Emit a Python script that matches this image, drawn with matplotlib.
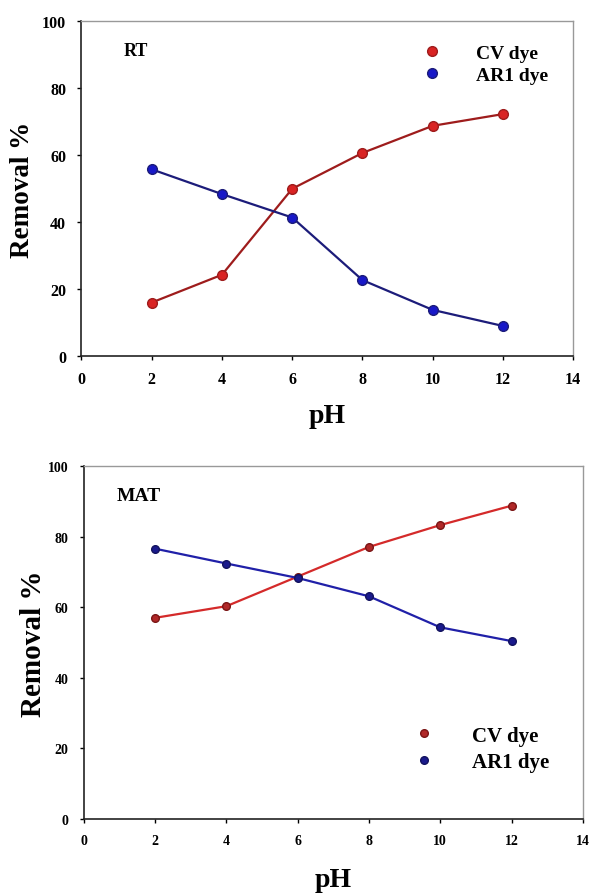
import numpy as np
import matplotlib
matplotlib.use("Agg")
import matplotlib.pyplot as plt
from matplotlib.lines import Line2D

plt.rcParams['font.family'] = ['Liberation Serif', 'DejaVu Serif']
plt.rcParams['font.weight'] = 'bold'

ph = np.array([2, 4, 6, 8, 10, 12])

# RT panel
cv_rt = np.array([16.0, 24.3, 50.0, 60.7, 68.8, 72.3])
ar1_rt = np.array([55.8, 48.4, 41.4, 22.7, 13.8, 9.0])

# MAT panel
cv_mat = np.array([57.0, 60.3, 68.7, 77.1, 83.3, 88.8])
ar1_mat = np.array([76.6, 72.4, 68.3, 63.1, 54.3, 50.4])

xticks = [0, 2, 4, 6, 8, 10, 12, 14]
yticks = [0, 20, 40, 60, 80, 100]

fig = plt.figure(figsize=(5.99, 8.95), dpi=100)
ax1 = fig.add_axes([0.136, 0.601, 0.821, 0.374])
ax2 = fig.add_axes([0.140, 0.084, 0.833, 0.394])


def style(ax, tick_fs):
    ax.set_xlim(0, 14)
    ax.set_ylim(0, 100)
    ax.set_xticks(xticks)
    ax.set_yticks(yticks)
    ax.tick_params(direction='out', length=3, width=1, labelsize=tick_fs, pad=8)
    for s in ['left', 'bottom']:
        ax.spines[s].set_color('#222222')
        ax.spines[s].set_linewidth(1.2)
    for s in ['top', 'right']:
        ax.spines[s].set_color('#999999')
        ax.spines[s].set_linewidth(1.0)
    for lab in ax.get_xticklabels() + ax.get_yticklabels():
        lab.set_fontweight('bold')


# top panel
ax1.plot(ph, cv_rt, color='#9e1c1c', lw=1.6, marker='o', ms=7,
         mfc='#d92323', mec='#9e1c1c', mew=1)
ax1.plot(ph, ar1_rt, color='#1c1c7a', lw=1.6, marker='o', ms=7,
         mfc='#1818c8', mec='#1c1c7a', mew=1)
style(ax1, 11.5)
ax1.set_xlabel('pH', fontsize=20, fontweight='bold', labelpad=11)
ax1.set_ylabel('Removal %', fontsize=19.5, fontweight='bold')
ax1.yaxis.set_label_coords(-0.094, 0.5)
ax1.text(0.085, 0.9, 'RT', transform=ax1.transAxes, fontsize=13, fontweight='bold')
h1 = [Line2D([], [], ls='none', marker='o', ms=7, mfc='#d92323', mec='#9e1c1c'),
      Line2D([], [], ls='none', marker='o', ms=7, mfc='#1818c8', mec='#1c1c7a')]
ax1.legend(h1, ['CV dye', 'AR1 dye'], loc='upper right', bbox_to_anchor=(0.985, 0.985),
           frameon=False, prop={'size': 14, 'weight': 'bold'},
           handlelength=1.0, handletextpad=1.8, labelspacing=0.25)

# bottom panel
ax2.plot(ph, cv_mat, color='#d42a2a', lw=1.6, marker='o', ms=5.5,
         mfc='#b02828', mec='#7a1515', mew=1)
ax2.plot(ph, ar1_mat, color='#2020a8', lw=1.6, marker='o', ms=5.5,
         mfc='#1a1a8c', mec='#12125e', mew=1)
style(ax2, 10)
ax2.set_xlabel('pH', fontsize=20, fontweight='bold', labelpad=14)
ax2.set_ylabel('Removal %', fontsize=21, fontweight='bold')
ax2.yaxis.set_label_coords(-0.074, 0.5)
ax2.text(0.065, 0.905, 'MAT', transform=ax2.transAxes, fontsize=14, fontweight='bold')
h2 = [Line2D([], [], ls='none', marker='o', ms=5.5, mfc='#b02828', mec='#7a1515'),
      Line2D([], [], ls='none', marker='o', ms=5.5, mfc='#1a1a8c', mec='#12125e')]
ax2.legend(h2, ['CV dye', 'AR1 dye'], loc='lower right', bbox_to_anchor=(0.97, 0.08),
           frameon=False, prop={'size': 15, 'weight': 'bold'},
           handlelength=1.0, handletextpad=1.8, labelspacing=0.3)

fig.savefig('out.png', dpi=100)
